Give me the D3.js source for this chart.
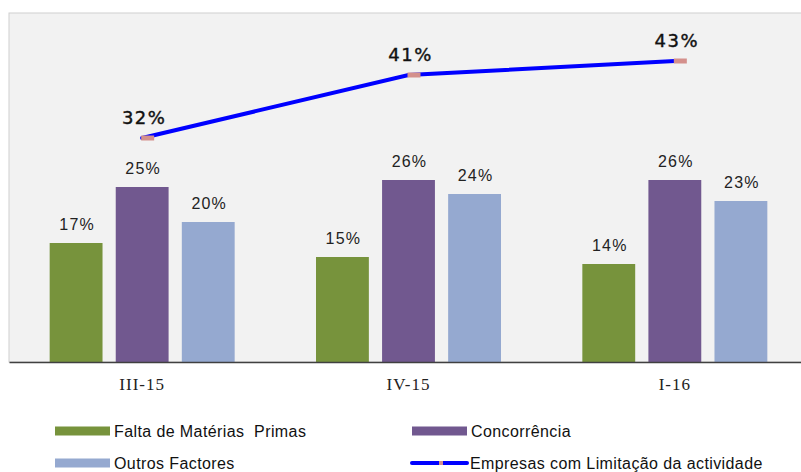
<!DOCTYPE html>
<html><head><meta charset="utf-8">
<script src="https://cdn.jsdelivr.net/npm/d3@7"></script>
<style>html,body{margin:0;padding:0;background:#fff;}svg{display:block;}text{white-space:pre;}</style>
</head><body>
<svg id="chart" width="801" height="472"></svg>
<script>
const categories = ["III-15", "IV-15", "I-16"];
const barSeries = ["Falta de Matérias  Primas", "Concorrência", "Outros Factores"];
const faltaMaterias = [17, 15, 14];
const concorrencia = [25, 26, 26];
const outrosFactores = [20, 24, 23];
const lineName = "Empresas com Limitação da actividade";
const empresasLimitacao = [32, 41, 43];
const colors = ["#77933c", "#71588f", "#95a9d0"];
const lineColor = "#0000ff";
const markerColor = "#d4908c";

const barValues = [faltaMaterias, concorrencia, outrosFactores];
const svg = d3.select("#chart");
const plot = {left: 9, right: 808, top: 13, bottom: 362};

svg.append("rect").attr("x", plot.left).attr("y", plot.top)
  .attr("width", plot.right - plot.left).attr("height", plot.bottom - plot.top)
  .attr("fill", "#f2f2f2").attr("stroke", "#cfcfcf").attr("stroke-width", 1);

const x0 = d3.scaleBand().domain(categories).range([plot.left, plot.right])
  .paddingInner(0.3054).paddingOuter(0.1527);
const x1 = d3.scaleBand().domain(barSeries).range([0, x0.bandwidth()]).paddingInner(0.2);
const y = d3.scaleLinear().domain([0, 50]).range([plot.bottom, 12]);

const groups = svg.append("g").selectAll("g").data(categories).join("g")
  .attr("transform", d => `translate(${x0(d)},0)`);
groups.each(function(cat, ci) {
  const g = d3.select(this);
  barSeries.forEach((s, si) => {
    const v = barValues[si][ci];
    g.append("rect").attr("x", x1(s)).attr("y", y(v))
      .attr("width", x1.bandwidth()).attr("height", y(0) - y(v))
      .attr("fill", colors[si]);
    g.append("text").attr("x", x1(s) + x1.bandwidth() / 2 + 1).attr("y", y(v) - 13)
      .attr("text-anchor", "middle").attr("font-family", "Liberation Sans, Arial, sans-serif")
      .attr("font-size", 16).attr("letter-spacing", 1.2).attr("fill", "#222").text(v + "%");
  });
});

// x axis
const xAxis = d3.axisBottom(x0).tickSize(0).tickPadding(16);
const ax = svg.append("g").attr("transform", `translate(0,${plot.bottom})`).call(xAxis);
ax.select(".domain").attr("stroke", "#404040").attr("stroke-width", 1.5);
ax.selectAll("text").attr("font-family", "Liberation Serif, serif").attr("font-size", 17)
  .attr("letter-spacing", 1).attr("fill", "#222");

// line
const cx = d => x0(d) + x0.bandwidth() / 2;
const line = d3.line().x((d, i) => cx(categories[i])).y(d => y(d));
svg.append("path").datum(empresasLimitacao).attr("d", line).attr("fill", "none")
  .attr("stroke", lineColor).attr("stroke-width", 4).attr("stroke-linecap", "round");
svg.append("g").selectAll("rect").data(empresasLimitacao).join("rect")
  .attr("x", (d, i) => cx(categories[i]) - 1).attr("y", d => y(d) - 2.5)
  .attr("width", 13).attr("height", 5).attr("fill", markerColor);
svg.append("g").selectAll("text").data(empresasLimitacao).join("text")
  .attr("x", (d, i) => cx(categories[i]) + 2).attr("y", d => y(d) - 14)
  .attr("text-anchor", "middle").attr("font-family", "DejaVu Sans, Verdana, sans-serif")
  .attr("font-size", 18).attr("letter-spacing", 1.5)
  .attr("stroke", "#111").attr("stroke-width", 0.4)
  .attr("fill", "#111").text(d => d + "%");

// legend
const legend = [
  {name: barSeries[0], type: "bar", color: colors[0], x: 55, y: 431},
  {name: barSeries[1], type: "bar", color: colors[1], x: 412, y: 431},
  {name: barSeries[2], type: "bar", color: colors[2], x: 55, y: 463},
  {name: lineName, type: "line", color: lineColor, x: 411, y: 463}
];
const lg = svg.append("g").selectAll("g").data(legend).join("g")
  .attr("transform", d => `translate(${d.x},${d.y})`);
lg.each(function(d) {
  const g = d3.select(this);
  if (d.type === "bar") {
    g.append("rect").attr("x", 0).attr("y", -4.5).attr("width", 55).attr("height", 9).attr("fill", d.color);
  } else {
    g.append("line").attr("x1", 1).attr("x2", 56).attr("y1", 0).attr("y2", 0)
      .attr("stroke", d.color).attr("stroke-width", 4).attr("stroke-linecap", "round");
    g.append("rect").attr("x", 28).attr("y", -2).attr("width", 4).attr("height", 4).attr("fill", markerColor);
  }
  g.append("text").attr("x", 59).attr("y", 5.5).attr("font-family", "Liberation Sans, Arial, sans-serif")
    .attr("font-size", 16).attr("letter-spacing", 0.4).attr("fill", "#111").text(d.name);
});
</script>
</body></html>
